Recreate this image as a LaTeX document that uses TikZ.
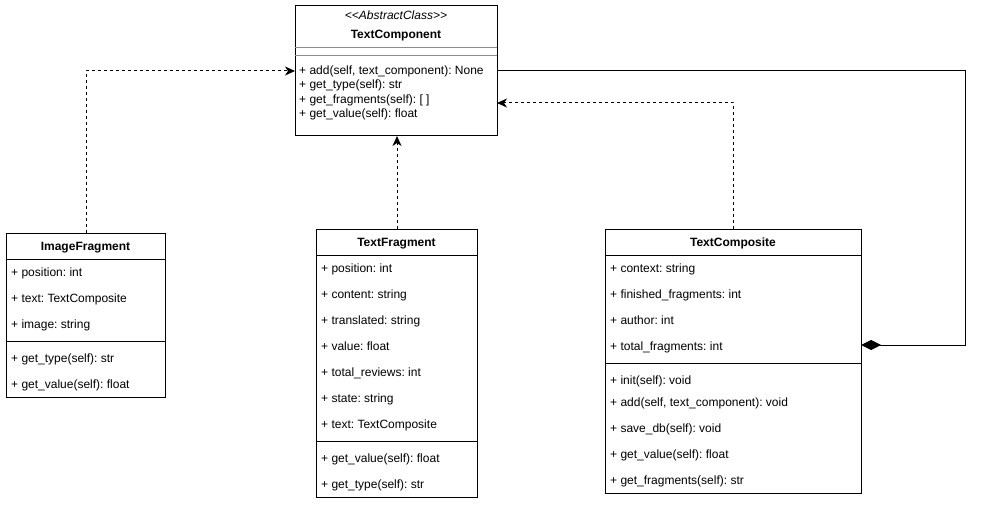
\documentclass[tikz,border=0pt]{standalone}
\usepackage{fontspec}
\setmainfont{Liberation Sans}
\frenchspacing
\usetikzlibrary{arrows.meta}
\begin{document}
\begin{tikzpicture}[x=1pt,y=-1pt,
  box/.style={draw, line width=1pt, inner sep=0pt, anchor=north west, fill=white},
  txt/.style={anchor=base west, inner sep=0pt, font=\fontsize{12}{14}\selectfont},
  ttl/.style={anchor=base, inner sep=0pt, font=\bfseries\fontsize{12}{14}\selectfont},
  stereo/.style={anchor=base, inner sep=0pt, font=\itshape\fontsize{12}{14}\selectfont},
  sepline/.style={line width=1pt},
  graysep/.style={line width=1pt, black!45},
  dep/.style={line width=1pt, dash pattern=on 3pt off 3pt, -{Stealth[length=10pt,width=9pt,inset=3pt]}},
  comp/.style={line width=1pt, -{Diamond[length=20pt,width=10pt]}}
]
\useasboundingbox (0,0) rectangle (992,505);

% TextComponent
\node[box, minimum width=202pt, minimum height=130pt] (tc) at (295,5) {};
\node[stereo] (tcst) at (396,20) {{<}{<}AbstractClass{>}{>}};
\node[ttl] (tcname) at (396,39) {TextComponent};
\draw[graysep] (295,47.5) -- (497,47.5);
\draw[graysep] (295,56) -- (497,56);
\node[txt] (tcm1) at (299,75) {+ add(self, text\_component): None};
\node[txt] (tcm2) at (299,89) {+ get\_type(self): str};
\node[txt] (tcm3) at (299,104) {+ get\_fragments(self): [ ]};
\node[txt] (tcm4) at (299,118) {+ get\_value(self): float};

% ImageFragment
\node[box, minimum width=159pt, minimum height=164pt] (imgf) at (6,233) {};
\node[ttl] (imgname) at (85.5,250) {ImageFragment};
\draw[sepline] (6,259) -- (165,259);
\node[txt] (ia1) at (11,276) {+ position: int};
\node[txt] (ia2) at (11,302) {+ text: TextComposite};
\node[txt] (ia3) at (11,328) {+ image: string};
\draw[sepline] (6,341) -- (165,341);
\node[txt] (im1) at (11,362) {+ get\_type(self): str};
\node[txt] (im2) at (11,388) {+ get\_value(self): float};

% TextFragment
\node[box, minimum width=161pt, minimum height=268pt] (tf) at (316,229) {};
\node[ttl] (tfname) at (396.5,246) {TextFragment};
\draw[sepline] (316,255) -- (477,255);
\node[txt] (fa1) at (321,272) {+ position: int};
\node[txt] (fa2) at (321,298) {+ content: string};
\node[txt] (fa3) at (321,324) {+ translated: string};
\node[txt] (fa4) at (321,350) {+ value: float};
\node[txt] (fa5) at (321,376) {+ total\_reviews: int};
\node[txt] (fa6) at (321,402) {+ state: string};
\node[txt] (fa7) at (321,428) {+ text: TextComposite};
\draw[sepline] (316,441) -- (477,441);
\node[txt] (fm1) at (321,462) {+ get\_value(self): float};
\node[txt] (fm2) at (321,488) {+ get\_type(self): str};

% TextComposite
\node[box, minimum width=256pt, minimum height=264pt] (tcomp) at (605,229) {};
\node[ttl] (tcompname) at (733,246) {TextComposite};
\draw[sepline] (605,255) -- (861,255);
\node[txt] (ca1) at (610,272) {+ context: string};
\node[txt] (ca2) at (610,298) {+ finished\_fragments: int};
\node[txt] (ca3) at (610,324) {+ author: int};
\node[txt] (ca4) at (610,350) {+ total\_fragments: int};
\draw[sepline] (605,363) -- (861,363);
\node[txt] (cm1) at (610,384) {+ init(self): void};
\node[txt] (cm2) at (610,406) {+ add(self, text\_component): void};
\node[txt] (cm3) at (610,432) {+ save\_db(self): void};
\node[txt] (cm4) at (610,458) {+ get\_value(self): float};
\node[txt] (cm5) at (610,484) {+ get\_fragments(self): str};

% connector end points
\coordinate (tcL) at (295,71);
\coordinate (tcR1) at (497,71);
\coordinate (tcR2) at (497,103);
\coordinate (corner) at (965,71);
\coordinate (tcompR) at (861,345);

% connectors
\draw[dep] (imgf.north) |- (tcL);
\draw[dep] (tf.north) -- (tf.north |- tc.south);
\draw[dep] (tcomp.north) |- (tcR2);
\draw[comp] (tcR1) -- (corner) |- (tcompR);
\end{tikzpicture}
\end{document}
